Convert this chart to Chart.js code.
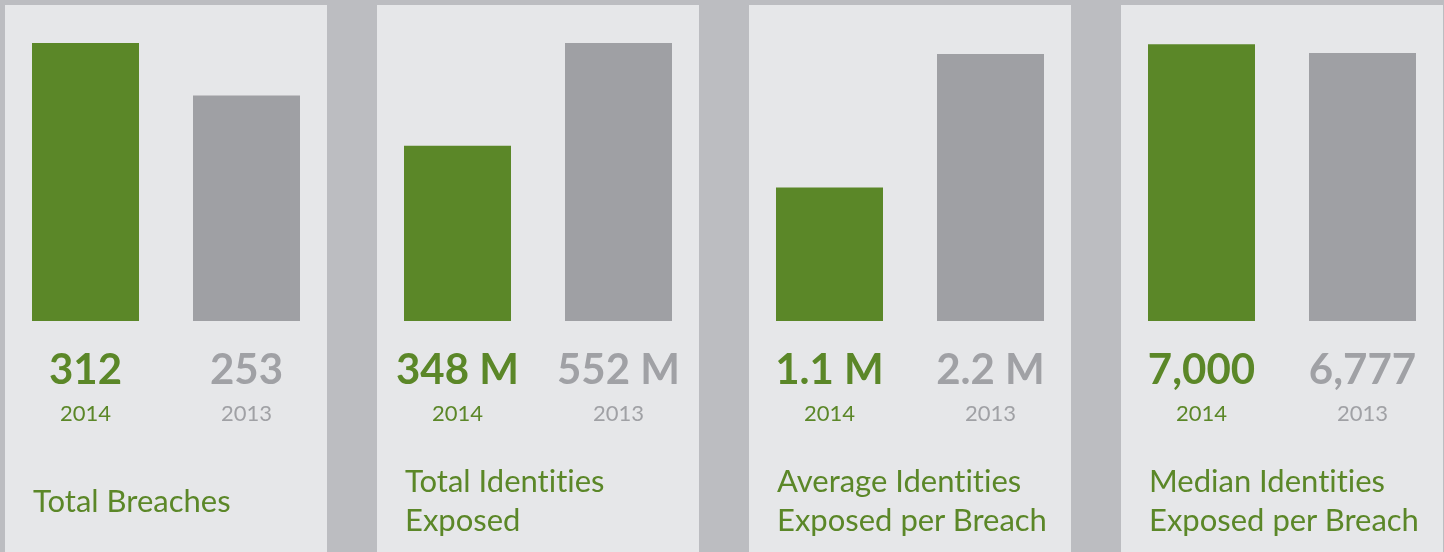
<!DOCTYPE html>
<html>
<head>
<meta charset="utf-8">
<script src="https://cdn.jsdelivr.net/npm/chart.js@4.4.1/dist/chart.umd.min.js"></script>
<style>
  body { margin: 0; background: #bcbdc1; width: 1444px; height: 552px; overflow: hidden; font-family: Lato, sans-serif; }
  .panel { position: absolute; top: 5px; width: 322px; height: 547px; background: #e6e7e9; }
  .panel canvas { position: absolute; left: 0; top: 0; }
  .title { position: absolute; left: 28px; top: 456px; height: 78px; width: 290px; font-variant-ligatures: none;
           display: flex; align-items: center; color: #5b8728; font-size: 31px; line-height: 39px; }
</style>
</head>
<body>
<div id="panels"></div>
<script>
const years = ['2014', '2013'];
const titles = ['Total Breaches', 'Total Identities<br>Exposed', 'Average Identities<br>Exposed per Breach', 'Median Identities<br>Exposed per Breach'];

const totalBreaches = [312, 253];
const totalIdentities = [348, 552];      // millions
const avgPerBreach = [1.1, 2.2];        // millions
const medianPerBreach = [7000, 6777];

const valueLabels = [
  ['312', '253'],
  ['348 M', '552 M'],
  ['1.1 M', '2.2 M'],
  ['7,000', '6,777']
];
const yMax = [312, 552, 2.29, 7030];

const green = '#5b8728';
const grayBar = '#9fa0a4';
const grayText = '#a0a1a5';

const allData = [totalBreaches, totalIdentities, avgPerBreach, medianPerBreach];

const valuePlugin = {
  id: 'values',
  afterDatasetsDraw(chart) {
    const ctx = chart.ctx;
    const idx = chart.options.panelIndex;
    const meta = chart.getDatasetMeta(0);
    ctx.save();
    ctx.textAlign = 'center';
    ctx.textBaseline = 'alphabetic';
    meta.data.forEach((bar, j) => {
      ctx.fillStyle = j == 0 ? green : grayText;
      ctx.font = 'bold 42px Lato';
      ctx.fillText(valueLabels[idx][j], bar.x, 379);
      ctx.font = '22px Lato';
      ctx.fillText(years[j], bar.x, 416);
    });
    ctx.restore();
  }
};

for (let i = 0; i < allData.length; i++) {
  let panel = document.createElement('div');
  panel.className = 'panel';
  panel.style.left = (5 + i * 372) + 'px';
  let canvas = document.createElement('canvas');
  canvas.width = 322;
  canvas.height = 547;
  panel.appendChild(canvas);
  let title = document.createElement('div');
  title.className = 'title';
  title.innerHTML = '<span>' + titles[i] + '</span>';
  panel.appendChild(title);
  document.getElementById('panels').appendChild(panel);

  new Chart(canvas.getContext('2d'), {
    type: 'bar',
    data: {
      labels: years,
      datasets: [{
        data: allData[i],
        backgroundColor: [green, grayBar],
        borderWidth: 0,
        categoryPercentage: 107 / 161,
        barPercentage: 1
      }]
    },
    options: {
      panelIndex: i,
      responsive: false,
      animation: false,
      layout: { padding: { top: 38, bottom: 231, left: 0, right: 0 } },
      plugins: { legend: { display: false }, tooltip: { enabled: false } },
      scales: {
        x: { display: false },
        y: { display: false, min: 0, max: yMax[i] }
      }
    },
    plugins: [valuePlugin]
  });
}
</script>
</body>
</html>
